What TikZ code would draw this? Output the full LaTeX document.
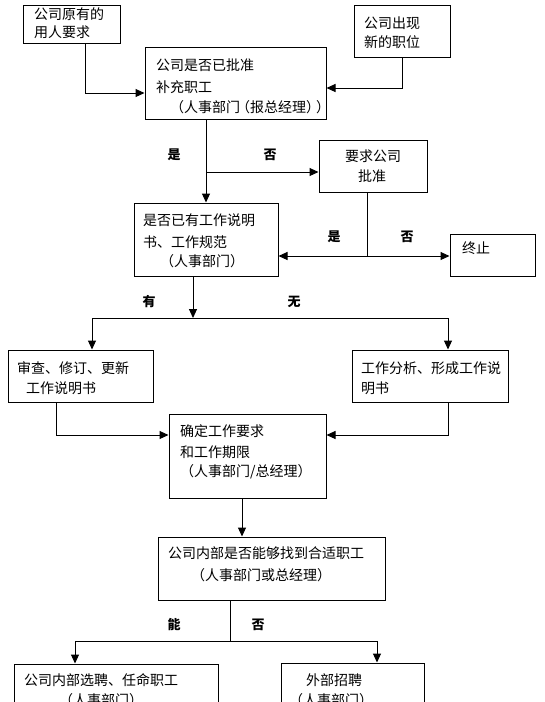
\documentclass[tikz,border=0pt]{standalone}
\usepackage{fontspec}
\newfontfamily\cjk{Noto Sans CJK SC}
\usetikzlibrary{arrows.meta}
\begin{document}
\begin{tikzpicture}[x=1pt,y=-1pt,
 box/.style={draw,line width=1pt,rectangle,inner sep=0pt},
 txt/.style={anchor=west,inner sep=0pt,font=\cjk\fontsize{14}{15}\selectfont},
 lbl/.style={inner sep=0pt,font=\cjk\bfseries\fontsize{13}{14}\selectfont},
 ln/.style={line width=1pt},
 arr/.style={ln,-{Triangle[length=9pt,width=8pt]}}]
\useasboundingbox (0,0) rectangle (544,702);
\clip (0,0) rectangle (544,702);
% boxes
\node[box,minimum width=97pt,minimum height=38pt] (A) at (71.5,24) {};
\node[box,minimum width=96pt,minimum height=52pt] (B) at (402,31) {};
\node[box,minimum width=181pt,minimum height=72pt] (C) at (235.5,83) {};
\node[box,minimum width=108pt,minimum height=52pt] (E) at (373,166) {};
\node[box,minimum width=144pt,minimum height=73pt] (D) at (206,239.5) {};
\node[box,minimum width=85pt,minimum height=42pt] (T) at (492.5,255) {};
\node[box,minimum width=145pt,minimum height=52pt] (F) at (80.5,376) {};
\node[box,minimum width=156pt,minimum height=52pt] (G) at (430,376) {};
\node[box,minimum width=157pt,minimum height=84pt] (H) at (247.5,456) {};
\node[box,minimum width=227pt,minimum height=63pt] (I) at (271.5,568.5) {};
\node[box,minimum width=204pt,minimum height=76pt] (J) at (116,702) {};
\node[box,minimum width=143pt,minimum height=77pt] (K) at (352.5,701.5) {};
% texts
\node[txt] (a1) at (34,14) {公司原有的};
\node[txt] (a2) at (34,32) {用人要求};
\node[txt] (b1) at (364,23) {公司出现};
\node[txt] (b2) at (364,42) {新的职位};
\node[txt] (c1) at (156,65) {公司是否已批准};
\node[txt] (c2) at (156,87) {补充职工};
\node[txt] (c3) at (170,107) {（人事部门\hspace{-4pt}（报总经理）\hspace{-4pt}）};
\node[txt] (e1) at (345,156) {要求公司};
\node[txt] (e2) at (358,176) {批准};
\node[txt] (d1) at (143,220) {是否已有工作说明};
\node[txt] (d2) at (143,242) {书、工作规范};
\node[txt] (d3) at (160,261) {（人事部门）};
\node[txt] (t1) at (462,248) {终止};
\node[txt] (f1) at (17,368) {审查、修订、更新};
\node[txt] (f2) at (26,388) {工作说明书};
\node[txt] (g1) at (361,368) {工作分析、形成工作说};
\node[txt] (g2) at (361,388) {明书};
\node[txt] (h1) at (180,431) {确定工作要求};
\node[txt] (h2) at (180,452) {和工作期限};
\node[txt] (h3) at (180,472) {（人事部门/总经理）};
\node[txt] (i1) at (168,553) {公司内部是否能够找到合适职工};
\node[txt] (i2) at (191,575) {（人事部门或总经理）};
\node[txt] (j1t) at (24,680) {公司内部选聘、任命职工};
\node[txt] (j2t) at (59,700) {（人事部门）};
\node[txt] (k1) at (306,680) {外部招聘};
\node[txt] (k2) at (289,700) {（人事部门）};
% labels
\node[lbl] (l1) at (174,155) {是};
\node[lbl] (l2) at (270,155) {否};
\node[lbl] (l3) at (334,237) {是};
\node[lbl] (l4) at (407,237) {否};
\node[lbl] (l5) at (149,302) {有};
\node[lbl] (l6) at (294,302) {无};
\node[lbl] (l7) at (174,625) {能};
\node[lbl] (l8) at (258,625) {否};
% junctions
\coordinate (j1) at (206,172);
\coordinate (j2) at (367,256);
\coordinate (j3) at (193,318);
\coordinate (j4) at (230,641);
% connectors
\draw[arr] (A.south -| 85,0) |- (C.west |- 0,93);
\draw[arr] (B.south) |- (C.east |- 0,88);
\draw[arr] (C.south -| D.north) -- (D.north);
\draw[arr] (j1) -- (E.west |- j1);
\draw[ln] (E.south -| j2) -- (j2);
\draw[arr] (j2) -- (D.east |- j2);
\draw[arr] (j2) -- (T.west |- j2);
\draw[arr] (D.south -| j3) -- (j3);
\draw[arr] (j3) -| (F.north -| 92,0);
\draw[arr] (j3) -| (G.north -| 448,0);
\draw[arr] (F.south -| 56,0) |- (H.west |- 0,435);
\draw[arr] (G.south -| 448,0) |- (H.east |- 0,435);
\draw[arr] (H.south -| 242,0) -- (I.north -| 242,0);
\draw[ln] (I.south -| j4) -- (j4);
\draw[arr] (j4) -| (J.north -| 75,0);
\draw[arr] (j4) -| (K.north -| 377,0);
\end{tikzpicture}
\end{document}
